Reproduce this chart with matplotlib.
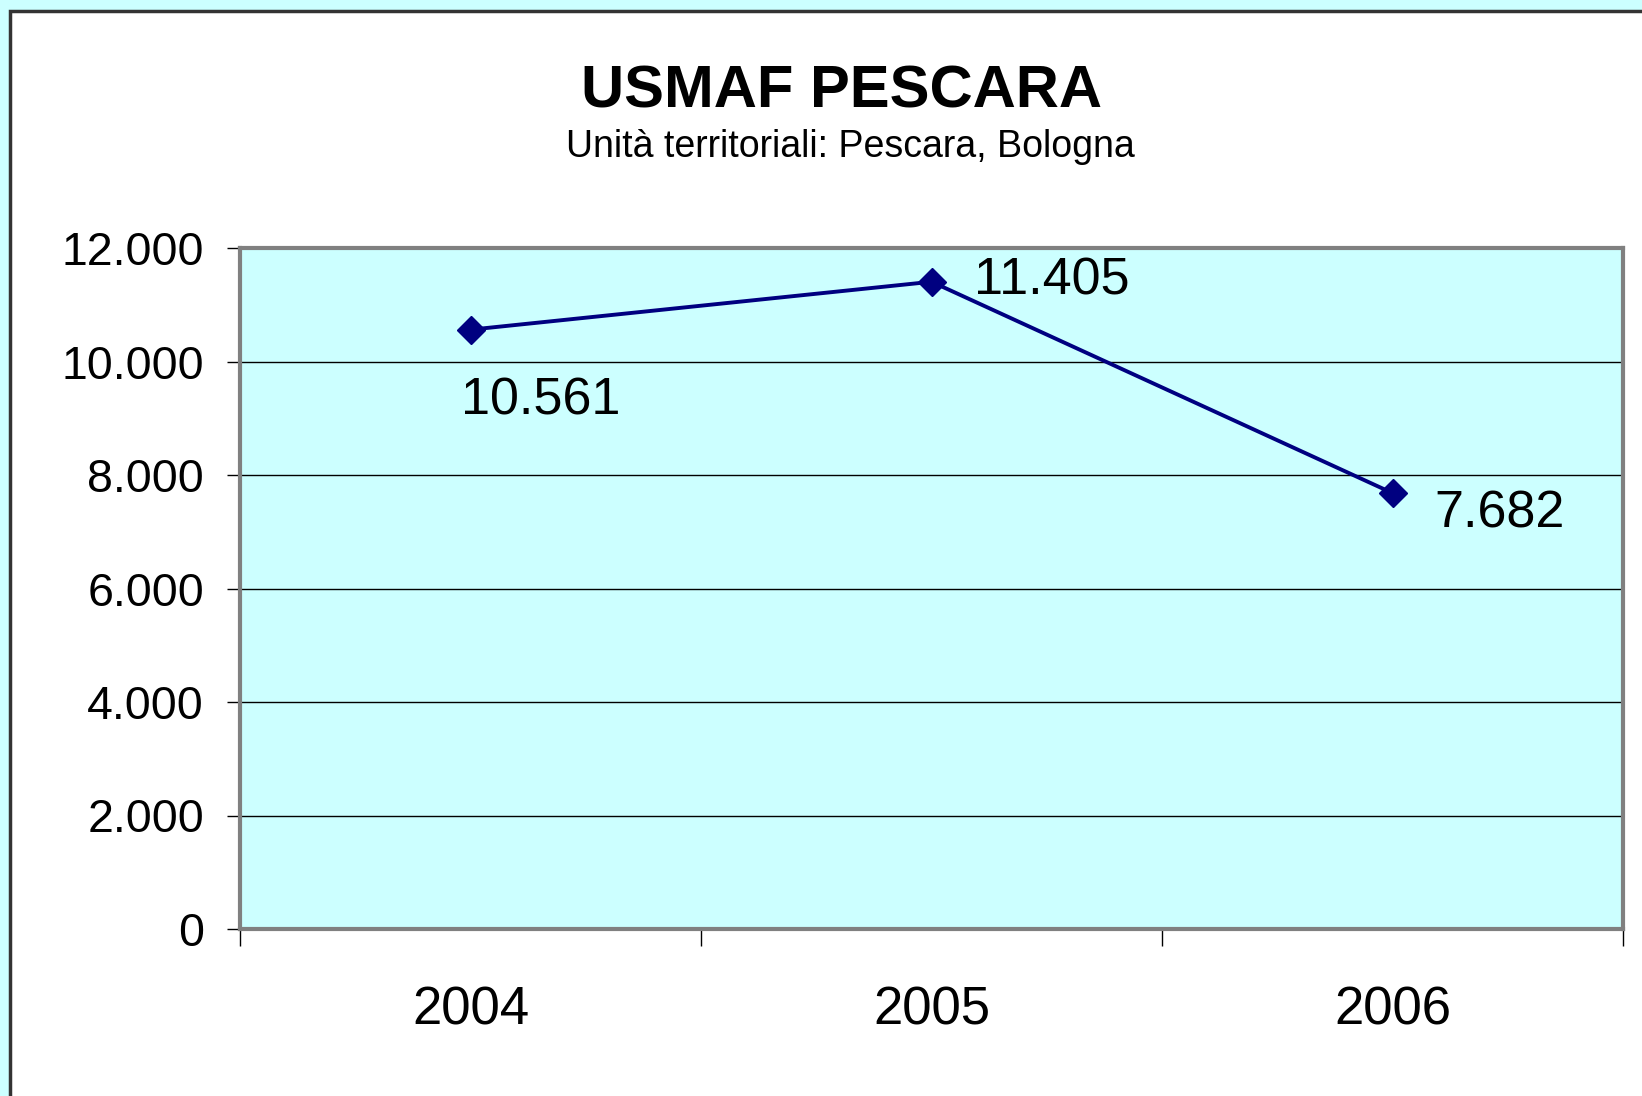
import matplotlib
matplotlib.use("Agg")
import matplotlib.pyplot as plt
from matplotlib.patches import Rectangle

plt.rcParams['font.family'] = ['Liberation Sans', 'DejaVu Sans']

# data
years = ['2004', '2005', '2006']
values = [10561, 11405, 7682]
value_labels = ['10.561', '11.405', '7.682']
y_ticks = [0, 2000, 4000, 6000, 8000, 10000, 12000]
y_tick_labels = ['0', '2.000', '4.000', '6.000', '8.000', '10.000', '12.000']

# label offsets in pixels (dx, dy) from each point, text baseline-left
label_offsets = [(-10, -85), (42, -13), (42, -34)]

cyan = '#CCFFFF'
navy = '#000080'

fig = plt.figure(figsize=(16.42, 10.96), dpi=100, facecolor=cyan)

# white slide panel
panel = Rectangle((10 / 1642, -0.01), 1.0, 1 - 11 / 1096 + 0.01,
                  transform=fig.transFigure, facecolor='white',
                  edgecolor='#333333', linewidth=2.5, zorder=-5)
fig.patches.append(panel)

ax = fig.add_axes([240 / 1642, (1096 - 929) / 1096,
                   (1623 - 240) / 1642, (929 - 248) / 1096])
ax.set_zorder(2)
ax.set_facecolor(cyan)

x = list(range(len(years)))
ax.plot(x, values, color=navy, linewidth=2.8, marker='D', markersize=14.5,
        markerfacecolor=navy, markeredgecolor=navy, zorder=3)

for xi, v, lab, (dx, dy) in zip(x, values, value_labels, label_offsets):
    ax.annotate(lab, (xi, v), xytext=(dx, dy), textcoords='offset pixels',
                ha='left', va='baseline', fontsize=37.5, color='black', zorder=4)

ax.set_ylim(0, 12000)
ax.set_xlim(-0.5, len(years) - 0.5)

ax.set_yticks(y_ticks)
ax.set_yticklabels(y_tick_labels)
for lbl in ax.get_yticklabels():
    lbl.set_verticalalignment('center_baseline')
ax.yaxis.grid(True, color='black', linewidth=1.0)
ax.set_axisbelow(True)

ax.set_xticks([i - 0.5 for i in range(len(years) + 1)])
ax.set_xticklabels([])
ax.set_xticks(x, minor=True)
ax.set_xticklabels(years, minor=True)

ax.tick_params(axis='y', which='major', direction='out', length=9.4, width=1,
               pad=16.5, labelsize=33.5, colors='black')
ax.tick_params(axis='x', which='major', direction='out', length=12.5, width=1)
ax.tick_params(axis='x', which='minor', length=0, pad=41, labelsize=38)

for side in ['top', 'right', 'bottom', 'left']:
    ax.spines[side].set_color('#808080')
    ax.spines[side].set_linewidth(3)

fig.text(841 / 1642, 1 - 107 / 1096, 'USMAF PESCARA', ha='center', va='baseline',
         fontsize=43, fontweight='bold', color='black')
fig.text(850 / 1642, 1 - 157 / 1096, 'Unità territoriali: Pescara, Bologna',
         ha='center', va='baseline', fontsize=27, color='black')

fig.savefig('out.png', dpi=100, facecolor=cyan)
